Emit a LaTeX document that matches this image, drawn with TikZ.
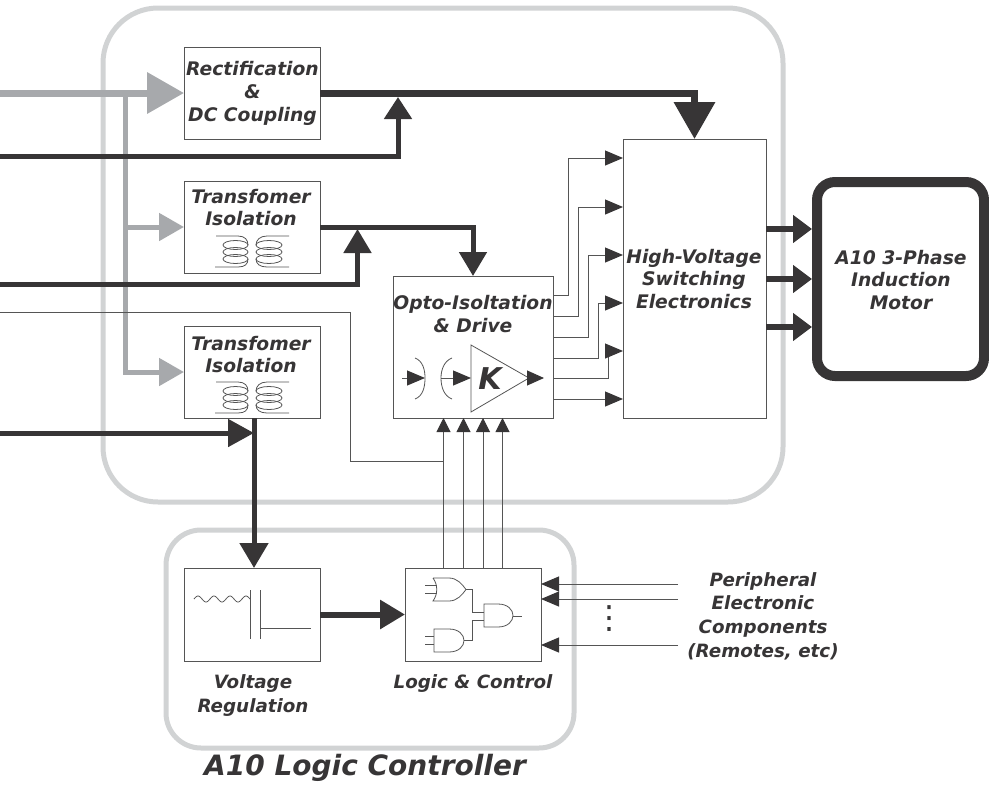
\documentclass[tikz,border=0pt]{standalone}
\usepackage{fontspec}
\setmainfont{DejaVu Sans}
\usetikzlibrary{arrows.meta,calc}
\definecolor{ink}{HTML}{373536}
\definecolor{midgray}{HTML}{A7A9AC}
\definecolor{lightgray}{HTML}{D1D3D4}
\definecolor{thinline}{HTML}{555555}
\tikzset{
  x=1pt,y=-1pt,
  boxnode/.style={draw=thinline,fill=white,line width=1pt,minimum width=#1,inner sep=0pt,outer sep=0pt},
  lbl/.style={font=\fontsize{18.7}{22.7}\selectfont\bfseries\itshape,text=ink,align=center,inner sep=0pt},
  lblsmall/.style={font=\fontsize{18.3}{23.6}\selectfont\bfseries\itshape,text=ink,align=center,inner sep=0pt},
  headbig/.style={-{Triangle[length=37pt,width=40pt]}},
  headmid/.style={-{Triangle[length=25pt,width=27pt]}},
  graybig/.style={draw=midgray,line width=7pt,color=midgray},
  graythin/.style={draw=midgray,line width=5pt,color=midgray},
  darkwire/.style={draw=ink,line width=5pt,color=ink},
  darkthick/.style={draw=ink,line width=7pt,color=ink},
  signal/.style={draw=thinline,line width=1pt},
  signalhead/.style={signal,-{Triangle[length=18pt,width=15pt,color=ink]}},
  glyph/.style={draw=thinline,line width=.8pt},
  frame/.style={draw=lightgray,line width=5pt,rounded corners=#1},
}
\newcommand{\tfcoil}[1]{%
  \begin{scope}[yshift=#1]
    \draw[glyph] (216,236) -- (238,236) .. controls (245,236) and (248,240) .. (248,245);
    \draw[glyph] (215,267) -- (238,267) .. controls (245,267) and (248,264) .. (248,259);
    \draw[glyph] (289,236) -- (267,236) .. controls (260,236) and (256,240) .. (256,245);
    \draw[glyph] (289,267) -- (267,267) .. controls (260,267) and (256,264) .. (256,259);
    \foreach \yy in {245,252,259}{
      \draw[glyph] (235.5,\yy) ellipse [x radius=12.5,y radius=4.5];
      \draw[glyph] (269,\yy) ellipse [x radius=13,y radius=4.5];
    }
  \end{scope}}
\begin{document}
\begin{tikzpicture}
\useasboundingbox (0,0) rectangle (989,785);
% frames
\draw[frame=55pt] (103,8) rectangle (783,502);
\draw[frame=35pt] (166,530) rectangle (574,748);
% boxes
\node[boxnode=136pt,minimum height=92pt] (rect) at (252,93) {};
\node[boxnode=136pt,minimum height=92pt] (tfa) at (252,227) {};
\node[boxnode=136pt,minimum height=92pt] (tfb) at (252,372) {};
\node[boxnode=160pt,minimum height=142pt] (opto) at (473,347) {};
\node[boxnode=143pt,minimum height=279pt] (hv) at (694.5,278.5) {};
\node[boxnode=136pt,minimum height=93pt] (reg) at (252,614.5) {};
\node[boxnode=136pt,minimum height=93pt] (logic) at (473,614.5) {};
\node[draw=ink,line width=10pt,rounded corners=18pt,minimum width=167pt,minimum height=194pt,inner sep=0pt,outer sep=0pt] (motor) at (900.5,279) {};
% free ends and junctions
\coordinate (ingray) at (0,93);
\coordinate (inA) at (0,156);
\coordinate (inB) at (0,284);
\coordinate (inC) at (0,312);
\coordinate (inD) at (0,433);
\coordinate (busTop) at (125,93);
\coordinate (busMid) at (125,227);
\coordinate (busBot) at (125,372);
\coordinate (jA) at (398,97);
\coordinate (jB) at (357.5,229);
\coordinate (jD) at (254,433);
% gray feeds
\draw[graythin,headmid] (busTop) -- (busBot) -- (tfb.west);
\draw[graythin,headmid] (busMid) -- (tfa.west);
\draw[graybig,headbig] (ingray) -- (rect.west);
% dark power
\draw[darkwire,-{Triangle[length=22pt,width=27pt]}] (inA) -| (jA);
\draw[darkthick,headbig] (rect.east) -| (hv.north);
\draw[darkwire,-{Triangle[length=24pt,width=27pt]}] (tfa.east) -| (opto.north);
\draw[darkwire,-{Triangle[length=24pt,width=27pt]}] (inB) -| (jB);
\draw[darkwire,-{Triangle[length=26pt,width=27pt]}] (inD) -- (jD);
\draw[darkwire,-{Triangle[length=25pt,width=28pt]}] ($(tfb.south)+(2,0)$) -- ($(reg.north)+(2,0)$);
\draw[darkwire,line width=6pt,-{Triangle[length=25pt,width=28pt]}] (reg.east) -- (logic.west);
% HV to motor
\foreach \i/\yy in {1/229,2/279,3/327}{
  \coordinate (hvo\i) at (766,\yy);
  \draw[ink,draw=ink,line width=6pt,shorten >=5pt,-{Triangle[length=19pt,width=27pt]}] (hvo\i) -- (motor.west |- hvo\i);
}
% opto to hv
\foreach \i/\oy/\hy/\dx in {1/295/158/15,2/316/207/25,3/337/255/35,4/358/303/45,5/378/351/55}{
  \coordinate (o\i) at (553,\oy);
  \coordinate (h\i) at (623,\hy);
  \draw[signalhead] (o\i) -- ++(\dx,0) |- (h\i);
}
\coordinate (o6) at (553,399);
\coordinate (h6) at (623,399);
\draw[signalhead] (o6) -- (h6);
% logic to opto
\foreach \i/\xx in {1/443.5,2/463.5,3/483,4/502.5}{
  \coordinate (lg\i) at (\xx,568);
  \coordinate (op\i) at (\xx,418);
  \draw[signal,-{Triangle[length=14pt,width=14pt,color=ink]}] (lg\i) -- (op\i);
}
% thin line into opto
\draw[signal] (inC) -- (350,312) -- (350,461) -- (443.5,461);
% peripherals
\coordinate (pa) at (678,584);
\coordinate (pb) at (678,599);
\coordinate (pc) at (678,645);
\draw[signalhead] (pa) -- (logic.east |- pa);
\draw[signalhead] (pb) -- (logic.east |- pb);
\draw[signalhead] (pc) -- (logic.east |- pc);
\node[font=\fontsize{32}{32}\selectfont,text=ink,inner sep=0pt] (dots) at (609,619) {⋮};
% opto glyphs
\draw[glyph] (471,345) -- (471,412) -- (529,378) -- cycle;
\coordinate (oa) at (402,378);
\coordinate (ob) at (425,378);
\coordinate (oc) at (441,378);
\coordinate (od) at (471,378);
\coordinate (oe) at (544,378);
\coordinate (of) at (527,378);
\draw[signal,-{Triangle[length=18pt,width=15pt,color=ink]}] (oa) -- (ob);
\draw[signal,-{Triangle[length=18pt,width=15pt,color=ink]}] (oc) -- (od);
\draw[signal,draw=ink,-{Triangle[length=17pt,width=15pt,color=ink]}] (of) -- (oe);
\draw[glyph] (415,358) .. controls (423,361) and (425,370) .. (425,378) .. controls (425,387) and (423,396) .. (415,399);
\draw[glyph] (452,358) .. controls (444,361) and (441,370) .. (441,378) .. controls (441,387) and (444,396) .. (452,399);
\node[font=\fontsize{30}{30}\selectfont\bfseries\itshape,text=ink,inner sep=0pt] (kgain) at (490,379) {K};
% transformer glyphs
\tfcoil{0pt}
\tfcoil{-146pt}
% capacitor
\draw[glyph] plot[domain=194:250,samples=70,smooth] (\x,{599-3*sin((\x-194)*22.5)});
\draw[glyph] (250,590) -- (250,639);
\draw[glyph] (260,590) -- (260,639);
\draw[glyph] (260,628) -- (311,628);
% gates
\draw[glyph] (433,578) -- (449,578) .. controls (457,578) and (462,584) .. (466,589.5) .. controls (462,595) and (457,601) .. (449,601) -- (433,601) .. controls (438,594) and (438,585) .. (433,578);
\draw[glyph] (425,585) -- (437,585) (425,593) -- (437,593);
\draw[glyph] (484,604) -- (498,604) .. controls (508,604) and (513,610) .. (513,615.5) .. controls (513,621) and (508,627) .. (498,627) -- (484,627) -- cycle;
\draw[glyph] (434,629) -- (449,629) .. controls (459,629) and (464,635) .. (464,640.5) .. controls (464,646) and (459,652) .. (449,652) -- (434,652) -- cycle;
\draw[glyph] (425,636) -- (434,636) (425,644) -- (434,644);
\draw[glyph] (513,616) -- (522,616);
\draw[glyph] (466,589) -- (472,589) -- (472,612) -- (484,612);
\draw[glyph] (464,640) -- (472,640) -- (472,620) -- (484,620);
% labels
\node[lbl] (lRect) at (252.5,93.5) {Rectification\\\&\\DC Coupling};
\node[lbl] (lTa) at (251,207.5) {Transfomer\\Isolation};
\node[lbl] (lTb) at (251,354.5) {Transfomer\\Isolation};
\node[lbl] (lOpto) at (473,314) {Opto-Isoltation\\\& Drive};
\node[lbl] (lHv) at (694,279) {High-Voltage\\Switching\\Electronics};
\node[lbl] (lMotor) at (901,280) {A10 3-Phase\\Induction\\Motor};
\node[lblsmall] (lReg) at (253,695.5) {Voltage\\Regulation};
\node[lblsmall] (lLogic) at (473,684) {Logic \& Control};
\node[lblsmall] (lPeri) at (763,616) {Peripheral\\Electronic\\Components\\(Remotes, etc)};
\node[lbl,font=\fontsize{28}{30}\selectfont\bfseries\itshape] (lCtl) at (365,768) {A10 Logic Controller};
\end{tikzpicture}
\end{document}
